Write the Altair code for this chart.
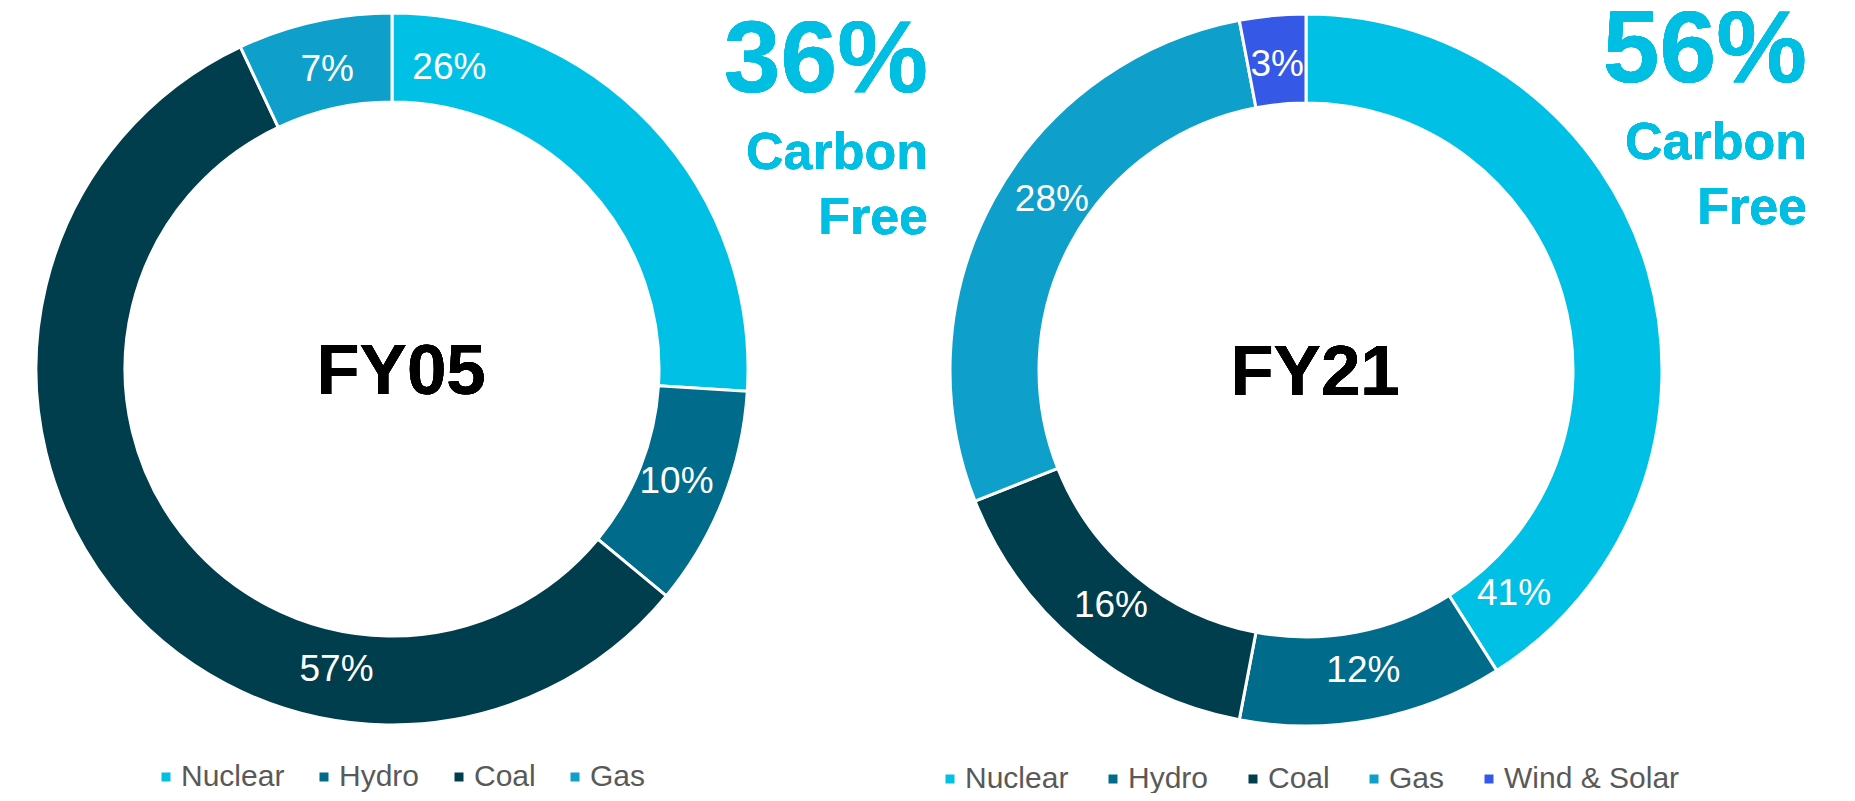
import altair as alt
import pandas as pd

# ---- data ----
sources_05 = ["Nuclear", "Hydro", "Coal", "Gas"]
shares_05 = [26, 10, 57, 7]
# where the printed value labels sit along the ring, in percent of the ring
label_at_05 = [3.0, 31.0, 52.9, 96.6]
carbon_free_05 = 36
title_05 = "FY05"

sources_21 = ["Nuclear", "Hydro", "Coal", "Gas", "Wind & Solar"]
shares_21 = [41, 12, 16, 28, 3]
label_at_21 = [38.1, 47.0, 61.0, 84.4, 98.5]
carbon_free_21 = 56
title_21 = "FY21"

palette = {
    "Nuclear": "#00C1E5",
    "Hydro": "#006B8A",
    "Coal": "#003E4D",
    "Gas": "#0E9FCA",
    "Wind & Solar": "#3558E6",
}

FONT = "Liberation Sans"
ACCENT = "#00BFE3"
R_OUT, R_IN, R_LAB = 356, 267, 306


def donut(title, sources, shares, label_at, carbon_free, cx, cy, lx, ly, tx, ty, pad):
    df = pd.DataFrame({
        "source": sources,
        "share": shares,
        "order": list(range(len(sources))),
        "label_at": label_at,
        "label": [f"{s}%" for s in shares],
    })
    base = alt.Chart(df)
    colors = [palette[s] for s in sources]
    arc = base.mark_arc(
        innerRadius=R_IN, outerRadius=R_OUT, stroke="white", strokeWidth=3
    ).encode(
        theta=alt.Theta("share:Q", stack=True, scale=alt.Scale(domain=[0, 100])),
        order=alt.Order("order:Q"),
        color=alt.Color(
            "source:N",
            scale=alt.Scale(domain=sources, range=colors),
            legend=alt.Legend(
                orient="none", legendX=lx, legendY=ly, direction="horizontal",
                title=None, symbolType="square", symbolSize=81,
                symbolStrokeWidth=0, labelFontSize=30, labelFont=FONT,
                labelColor="#595959", columnPadding=pad, labelOffset=0,
                labelLimit=0,
            ),
        ),
        x=alt.value(cx),
        y=alt.value(cy),
    )
    labels = base.mark_text(
        font=FONT, fontSize=37, color="white", align="center", baseline="middle"
    ).encode(
        theta=alt.Theta("label_at:Q", stack=None, scale=alt.Scale(domain=[0, 100])),
        radius=alt.value(R_LAB),
        text="label:N",
        x=alt.value(cx),
        y=alt.value(cy),
    )
    centre = base.mark_text(
        text=title, font=FONT, fontSize=71, fontWeight="bold", color="black",
        align="center", baseline="middle", dx=9, dy=4,
    ).encode(x=alt.value(cx), y=alt.value(cy))
    big = base.mark_text(
        text=f"{carbon_free}%", font=FONT, fontSize=102, fontWeight="bold",
        color=ACCENT, align="right", baseline="alphabetic",
    ).encode(x=alt.value(tx), y=alt.value(ty))
    sub = base.mark_text(
        text=["Carbon", "Free"], font=FONT, fontSize=52, fontWeight="bold",
        color=ACCENT, align="right", baseline="alphabetic", lineHeight=65,
    ).encode(x=alt.value(tx), y=alt.value(ty + 77))
    return [arc, labels, centre, big, sub]


layers = donut(title_05, sources_05, shares_05, label_at_05, carbon_free_05,
               384, 361, 143, 754, 920, 84, 24)
layers += donut(title_21, sources_21, shares_21, label_at_21, carbon_free_21,
                1298, 362, 927, 756, 1799, 74, 29)

chart = alt.layer(*layers).resolve_scale(color="independent").properties(
    width=1839, height=785, padding=0,
    autosize=alt.AutoSizeParams(type="none"),
).configure_view(stroke=None)

chart.save("out.html", embed_options={"renderer": "svg", "actions": False})
